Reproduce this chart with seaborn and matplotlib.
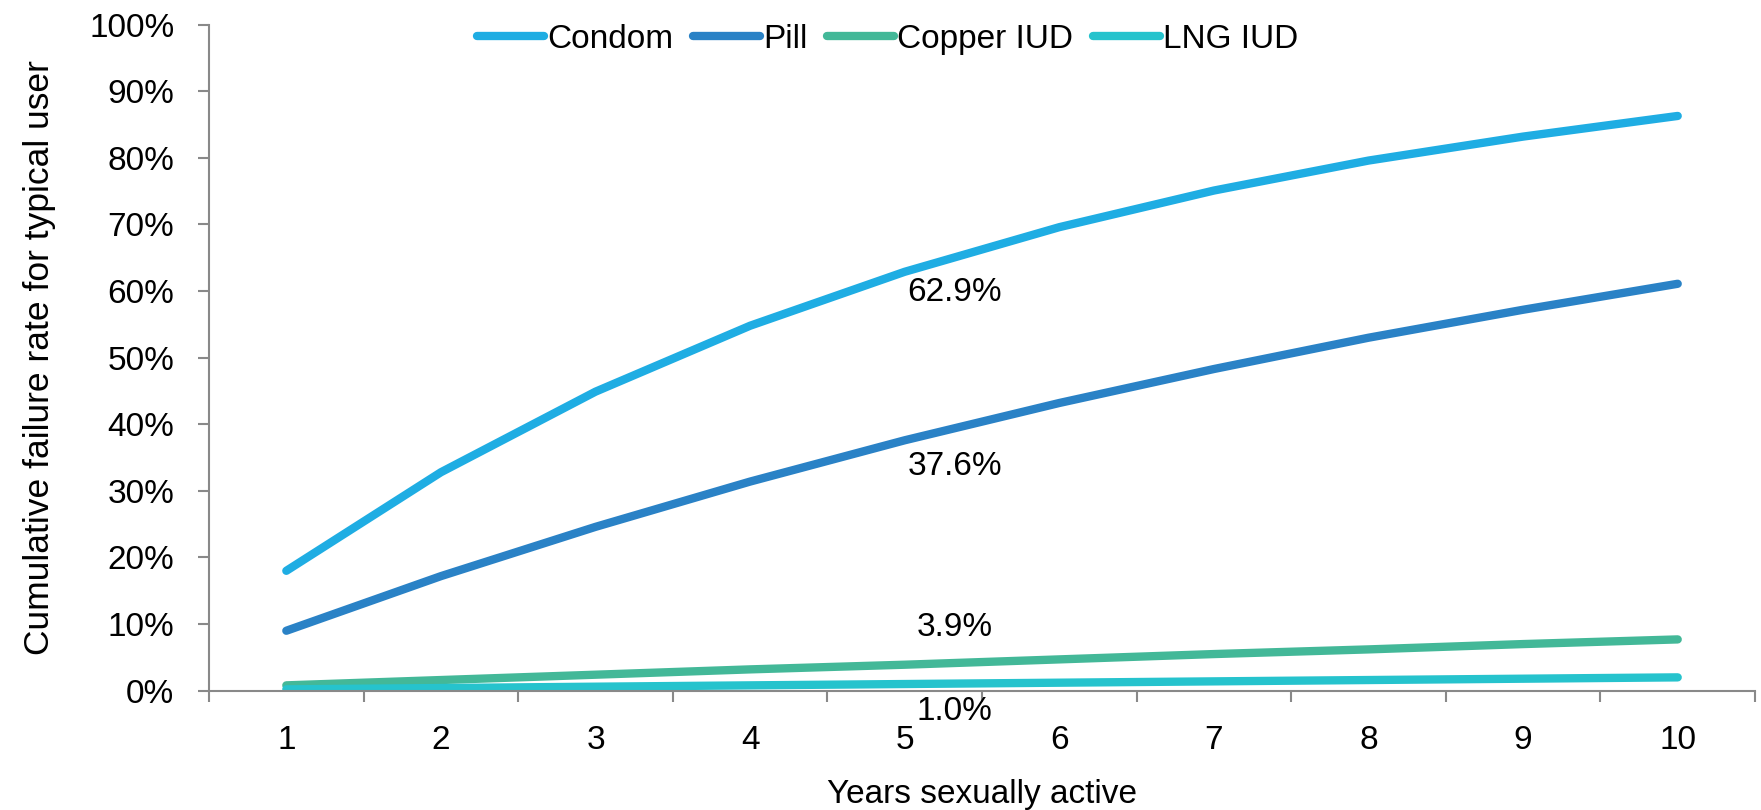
import pandas as pd
import numpy as np
import matplotlib.pyplot as plt
import seaborn as sns

# Data
years = [1, 2, 3, 4, 5, 6, 7, 8, 9, 10]
condom = [0.180, 0.328, 0.449, 0.548, 0.629, 0.696, 0.751, 0.796, 0.832, 0.863]
pill = [0.090, 0.172, 0.246, 0.314, 0.376, 0.432, 0.483, 0.530, 0.572, 0.611]
copper_iud = [0.008, 0.016, 0.024, 0.032, 0.039, 0.047, 0.055, 0.062, 0.070, 0.077]
lng_iud = [0.002, 0.004, 0.006, 0.008, 0.010, 0.012, 0.014, 0.016, 0.018, 0.020]
methods = ['Condom', 'Pill', 'Copper IUD', 'LNG IUD']
colors = ['#1fade3', '#2a82c6', '#43b898', '#26c3cd']

df = pd.DataFrame({
    'year': years * 4,
    'rate': condom + pill + copper_iud + lng_iud,
    'method': [m for m in methods for _ in years],
})

sns.set_style('white')
plt.rcParams['font.family'] = ['Liberation Sans', 'DejaVu Sans']
plt.rcParams['text.color'] = 'black'
plt.rcParams['axes.labelcolor'] = 'black'
plt.rcParams['xtick.color'] = 'black'
plt.rcParams['ytick.color'] = 'black'

fig = plt.figure(figsize=(17.61, 8.10), dpi=100)
ax = fig.add_axes([0.1187, 0.1473, 0.8779, 0.8222])

sns.lineplot(data=df, x='year', y='rate', hue='method', palette=colors,
             linewidth=6, ax=ax, solid_capstyle='round')

# Data labels at year 5
offsets = {'Condom': -15, 'Pill': -19, 'Copper IUD': 27, 'LNG IUD': -20}
for m, vals in zip(methods, [condom, pill, copper_iud, lng_iud]):
    v = vals[4]
    ax.annotate(f'{v * 100:.1f}%', xy=(5, v), xytext=(36, offsets[m]),
                textcoords='offset points', ha='center', va='center',
                fontsize=24, color='black')

ax.set_xlim(0.5, 10.5)
ax.set_ylim(0, 1)
yt = np.arange(0, 1.01, 0.1)
ax.set_yticks(yt)
ax.set_yticklabels([f'{int(round(t * 100))}%' for t in yt])
ax.set_xticks(years)
ax.set_xticks(np.arange(0.5, 10.6, 1), minor=True)
ax.tick_params(axis='x', which='major', bottom=True, length=0, pad=25, labelsize=24)
ax.tick_params(axis='x', which='minor', bottom=True, length=8, width=1.5,
               color='#898989', direction='out')
ax.tick_params(axis='y', left=True, length=8, width=1.5, color='#898989',
               direction='out', labelsize=24, pad=17)

for s in ['top', 'right']:
    ax.spines[s].set_visible(False)
for s in ['left', 'bottom']:
    ax.spines[s].set_color('#898989')
    ax.spines[s].set_linewidth(1.5)

ax.set_xlabel('Years sexually active', fontsize=24, labelpad=16)
ax.set_ylabel('Cumulative failure rate for typical user', fontsize=25.5, labelpad=24)

leg = ax.legend(loc='center', bbox_to_anchor=(0.439, 0.978), ncol=4, frameon=False,
                fontsize=24, handlelength=2.0, handletextpad=0.1, columnspacing=0.6)
for line in leg.get_lines():
    line.set_linewidth(6)
    line.set_solid_capstyle('round')

fig.savefig('out.png', dpi=100)
